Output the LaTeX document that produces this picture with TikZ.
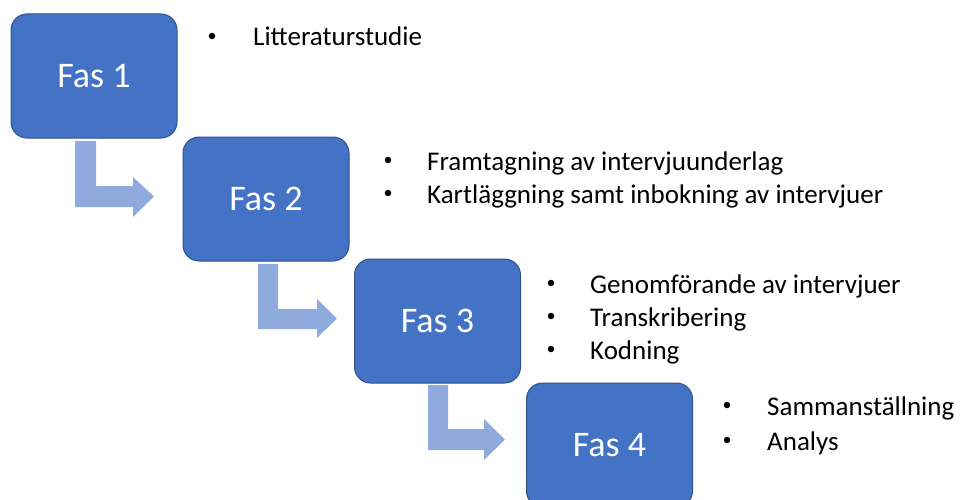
\documentclass[tikz,border=0pt]{standalone}
\usepackage{fontspec}
\setmainfont{Carlito}
\definecolor{boxblue}{HTML}{4472C4}
\definecolor{boxedge}{HTML}{2F528F}
\definecolor{arrowblue}{HTML}{8FAADC}
\begin{document}
\begin{tikzpicture}[x=1pt,y=-1pt,
  fasbox/.style={draw=boxedge,line width=1pt,fill=boxblue,rounded corners=16pt,
    minimum width=166pt,minimum height=124pt,inner sep=0pt,text=white,
    font=\fontsize{36}{36}\selectfont},
  bul/.style={circle,fill=black,inner sep=0pt,minimum size=6.5pt},
  item/.style={anchor=base west,inner sep=0pt,font=\fontsize{27}{27}\selectfont},
  bentarrow/.style={fill=arrowblue,draw=none}]
\useasboundingbox (0,0) rectangle (960,500);
\begin{scope}
\clip (0,0) rectangle (960,500);
\node[fasbox] (f1) at (94,76) {Fas 1};
\node[fasbox] (f2) at (266,199) {Fas 2};
\node[fasbox] (f3) at (437.5,321) {Fas 3};
\node[fasbox] (f4) at (609.5,445) {Fas 4};
\end{scope}
% bent arrows
\fill[bentarrow] (75,141) -- (96,141) -- (96,186) -- (133,186) -- (133,177) -- (154,196.5) -- (133,217) -- (133,207) -- (75,207) -- cycle;
\fill[bentarrow] (258,264) -- (278,264) -- (278,309) -- (317,309) -- (317,299) -- (337,318.5) -- (317,338) -- (317,329) -- (258,329) -- cycle;
\fill[bentarrow] (428,385) -- (448,385) -- (448,429) -- (484,429) -- (484,419) -- (505,439.5) -- (484,460) -- (484,450) -- (428,450) -- cycle;
% bullet lists
\node[bul] (b11) at (212,36) {};
\node[item] (t11) at (253,46) {Litteraturstudie};
\node[bul] (b21) at (388,160) {};
\node[item] (t21) at (427,170) {Framtagning av intervjuunderlag};
\node[bul] (b22) at (388,193) {};
\node[item] (t22) at (427,203) {Kartläggning samt inbokning av intervjuer};
\node[bul] (b31) at (551,283) {};
\node[item] (t31) at (590,293) {Genomförande av intervjuer};
\node[bul] (b32) at (551,316) {};
\node[item] (t32) at (590,326) {Transkribering};
\node[bul] (b33) at (551,349) {};
\node[item] (t33) at (590,359) {Kodning};
\node[bul] (b41) at (727,405) {};
\node[item] (t41) at (767,415) {Sammanställning};
\node[bul] (b42) at (727,440) {};
\node[item] (t42) at (767,450) {Analys};
\end{tikzpicture}
\end{document}
